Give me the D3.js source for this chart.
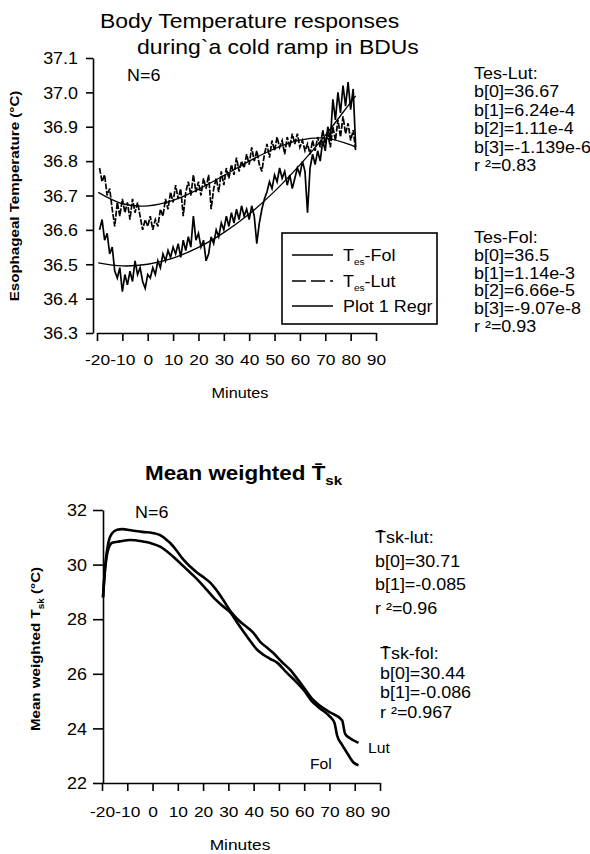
<!DOCTYPE html>
<html><head><meta charset="utf-8">
<script src="https://cdn.jsdelivr.net/npm/d3@7"></script>
<style>
body{margin:0;background:#fff}
svg{display:block}
text{font-family:"Liberation Sans",Arial,Helvetica,sans-serif;fill:#000}
</style>
</head><body>
<svg id="c" width="590" height="854"></svg>
<script>
// ---------- DATA: top chart (esophageal temperature) ----------
const tesMinutes = [-19,-18,-17,-16,-15,-14,-13,-12,-11,-10,-9,-8,-7,-6,-5,-4,-3,-2,-1,0,
  1,2,3,4,5,6,7,8,9,10,11,12,13,14,15,16,17,18,19,20,21,22,23,24,25,26,27,28,29,30,
  31,32,33,34,35,36,37,38,39,40,41,42,43,44,45,46,47,48,49,50,51,52,53,54,55,56,57,58,59,60,
  61,62,63,64,65,66,67,68,69,70,71,72,73,74,75,76,77,78,79,80,81,82];
const tesLut = [36.78,36.74,36.76,36.70,36.72,36.66,36.61,36.68,36.64,36.69,36.65,36.68,36.63,36.69,36.65,36.68,36.64,36.60,36.63,36.61,
  36.64,36.60,36.63,36.61,36.66,36.64,36.69,36.66,36.71,36.68,36.73,36.69,36.72,36.64,36.71,36.74,36.70,36.76,36.71,36.74,
  36.70,36.75,36.72,36.76,36.66,36.72,36.75,36.71,36.77,36.73,36.78,36.75,36.79,36.76,36.81,36.77,36.80,36.78,36.82,36.79,
  36.84,36.80,36.83,36.79,36.77,36.82,36.85,36.81,36.86,36.83,36.87,36.84,36.86,36.82,36.87,36.84,36.88,36.85,36.88,36.84,
  36.86,36.83,36.85,36.82,36.86,36.83,36.87,36.84,36.89,36.85,36.88,36.84,36.90,36.86,36.92,36.87,36.93,36.88,36.91,36.86,
  36.89,36.83];
const tesFol = [36.60,36.63,36.57,36.59,36.53,36.55,36.48,36.46,36.49,36.42,36.47,36.44,36.48,36.45,36.51,36.47,36.49,36.45,36.43,36.47,
  36.46,36.49,36.47,36.51,36.49,36.53,36.51,36.54,36.52,36.55,36.53,36.56,36.52,36.57,36.54,36.58,36.55,36.64,36.57,36.59,
  36.55,36.57,36.51,36.53,36.58,36.56,36.60,36.58,36.62,36.60,36.64,36.61,36.65,36.62,36.66,36.63,36.67,36.64,36.66,36.63,
  36.67,36.64,36.56,36.62,36.66,36.69,36.71,36.74,36.72,36.76,36.74,36.78,36.75,36.77,36.73,36.76,36.72,36.75,36.78,36.76,
  36.80,36.77,36.65,36.78,36.82,36.79,36.83,36.80,36.86,36.83,36.90,36.86,36.98,36.92,37.00,36.94,37.02,36.96,37.03,36.95,
  37.01,36.84];
const regMinutes = [-19.5,-10,0,10,20,30,40,50,60,70,80,82];
const regLut = [36.709,36.676,36.670,36.686,36.718,36.758,36.800,36.836,36.861,36.867,36.847,36.840];
const regFol = [36.504,36.495,36.500,36.518,36.549,36.592,36.646,36.712,36.789,36.875,36.971,36.990];
const tesYTicks = [36.3,36.4,36.5,36.6,36.7,36.8,36.9,37.0,37.1];
const minuteTicks = [-20,-10,0,10,20,30,40,50,60,70,80,90];

// ---------- DATA: bottom chart (mean weighted skin temperature) ----------
const tskLutMin = [-19.6,-18.8,-17.5,-16,-14,-12,-8,-4,0,3,5,7,10,12.3,15,17.8,20,22.9,25,28,31,
  34.8,37.5,40,42.7,45,47.8,51,54.5,57,59.7,63,66,70,75,76.2,78,81.5];
const tskLut = [28.8,29.9,30.8,31.15,31.28,31.3,31.25,31.2,31.16,31.08,30.95,30.79,30.45,30.17,29.92,29.69,29.55,29.33,29.1,28.7,28.27,
  27.9,27.7,27.49,27.16,26.98,26.76,26.45,26.14,25.85,25.52,25.1,24.85,24.6,24.3,23.8,23.65,23.47];
const tskFolMin = [-19.6,-18.8,-17.4,-16,-13,-8.7,-4,-0.8,3.2,5.5,8.3,11,13.8,16.5,19,21.5,24,27.5,31,
  33.6,37.5,41.5,44,46.5,49.4,53,57.3,60,63,66,70,72,73,75,77,79.5,81.5];
const tskFol = [28.8,29.8,30.6,30.8,30.85,30.9,30.85,30.79,30.65,30.5,30.28,30.05,29.8,29.57,29.33,29.07,28.81,28.5,28.22,
  27.86,27.35,26.87,26.69,26.55,26.4,26.05,25.66,25.38,25.0,24.75,24.45,24.2,23.75,23.4,23.1,22.75,22.65];
const tskYTicks = [22,24,26,28,30,32];

const SX = 1.12; // horizontal stretch of the original typeface
const hyphenFmt = d => String(d); // plain hyphen-minus as in the original

const svg = d3.select("#c");

function txt(g, x, y, parts, size, opt = {}) {
  const rot = opt.rotate ? ` rotate(${opt.rotate})` : "";
  const t = g.append("text")
    .attr("transform", `translate(${x},${y})${rot} scale(${SX},1)`)
    .attr("font-size", size)
    .attr("font-weight", opt.bold ? "bold" : "normal")
    .attr("text-anchor", opt.anchor || "start");
  (Array.isArray(parts) ? parts : [parts]).forEach(p => {
    if (typeof p === "string") t.append("tspan").text(p);
    else t.append("tspan").attr("font-size", p.size).attr("dy", p.dy).text(p.t);
  });
  return t;
}

function styleAxis(g) {
  g.select(".domain").attr("stroke", "#000").attr("stroke-width", 1.6);
  g.selectAll(".tick line").attr("stroke", "#000").attr("stroke-width", 1.6);
}

// ================= TOP CHART =================
const x1 = d3.scaleLinear().domain([-20, 90]).range([97, 376]);
const y1 = d3.scaleLinear().domain([36.3, 37.1]).range([333, 58]);

const gTop = svg.append("g");
const gy1 = gTop.append("g").attr("transform", "translate(93,0)")
  .call(d3.axisLeft(y1).tickValues(tesYTicks).tickSize(7).tickSizeOuter(0).tickFormat(d3.format(".1f")));
styleAxis(gy1);
gy1.selectAll(".tick text").attr("x", -15 / SX).attr("dy", "0.36em")
  .attr("transform", `scale(${SX},1)`).attr("font-size", 16);
gy1.attr("font-family", null).attr("font-size", null);

const gx1 = gTop.append("g").attr("transform", "translate(0,333)")
  .call(d3.axisBottom(x1).tickValues(minuteTicks).tickSize(8).tickSizeOuter(0).tickFormat(hyphenFmt));
styleAxis(gx1);
gx1.selectAll(".tick text").attr("y", 32).attr("dy", 0)
  .attr("transform", `scale(${SX},1)`).attr("font-size", 15.5);
gx1.attr("font-family", null).attr("font-size", null);

const lineT = d3.line().x(d => x1(d[0])).y(d => y1(d[1]));
const lineR = d3.line().x(d => x1(d[0])).y(d => y1(d[1])).curve(d3.curveCatmullRom);

gTop.append("path").datum(tesMinutes.map((m, i) => [m, tesLut[i]]))
  .attr("d", lineT).attr("fill", "none").attr("stroke", "#000").attr("stroke-width", 1.7)
  .attr("stroke-dasharray", "6,1.5");
gTop.append("path").datum(tesMinutes.map((m, i) => [m, tesFol[i]]))
  .attr("d", lineT).attr("fill", "none").attr("stroke", "#000").attr("stroke-width", 1.7);
gTop.append("path").datum(regMinutes.map((m, i) => [m, regLut[i]]))
  .attr("d", lineR).attr("fill", "none").attr("stroke", "#000").attr("stroke-width", 1.3);
gTop.append("path").datum(regMinutes.map((m, i) => [m, regFol[i]]))
  .attr("d", lineR).attr("fill", "none").attr("stroke", "#000").attr("stroke-width", 1.3);

// legend
const lg = gTop.append("g");
lg.append("rect").attr("x", 282).attr("y", 233).attr("width", 155).attr("height", 91)
  .attr("fill", "#fff").attr("stroke", "#000").attr("stroke-width", 1.6);
const legendRows = [
  { y: 255, dash: null, parts: ["T", { t: "es", size: 9, dy: 4 }, { t: "-Fol", size: 16, dy: -4 }] },
  { y: 281, dash: "14,5", parts: ["T", { t: "es", size: 9, dy: 4 }, { t: "-Lut", size: 16, dy: -4 }] },
  { y: 306, dash: null, parts: ["Plot 1 Regr"] }
];
legendRows.forEach(r => {
  lg.append("line").attr("x1", 292).attr("x2", 333).attr("y1", r.y).attr("y2", r.y)
    .attr("stroke", "#000").attr("stroke-width", 1.3).attr("stroke-dasharray", r.dash);
  txt(lg, 343, r.y + 6, r.parts, 16);
});

txt(gTop, 100, 28, "Body Temperature responses", 20.5);
txt(gTop, 137, 54, "during`a cold ramp in BDUs", 20.5);
txt(gTop, 127, 81, "N=6", 16);
txt(gTop, 19, 196, "Esophageal Temperature (°C)", 13.5, { bold: true, rotate: -90, anchor: "middle" });
txt(gTop, 240, 398, "Minutes", 14.5, { anchor: "middle" });

const annTop1 = ["Tes-Lut:", "b[0]=36.67", "b[1]=6.24e-4", "b[2]=1.11e-4", "b[3]=-1.139e-6", "r ²=0.83"];
const annTop2 = ["Tes-Fol:", "b[0]=36.5", "b[1]=1.14e-3", "b[2]=6.66e-5", "b[3]=-9.07e-8", "r ²=0.93"];
annTop1.forEach((s, i) => txt(gTop, 474, 79 + i * 18.4, s, 16));
annTop2.forEach((s, i) => txt(gTop, 474, 243 + i * 17.8, s, 16));

// ================= BOTTOM CHART =================
const x2 = d3.scaleLinear().domain([-20, 90]).range([102, 380]);
const y2 = d3.scaleLinear().domain([22, 32]).range([783, 510]);
const gBot = svg.append("g");

const gy2 = gBot.append("g").attr("transform", "translate(103,0)")
  .call(d3.axisLeft(y2).tickValues(tskYTicks).tickSize(10).tickSizeOuter(0));
styleAxis(gy2);
gy2.selectAll(".tick text").attr("x", -16 / SX).attr("dy", "0.36em")
  .attr("transform", `scale(${SX},1)`).attr("font-size", 16);
gy2.attr("font-family", null).attr("font-size", null);

const gx2 = gBot.append("g").attr("transform", "translate(0,783)")
  .call(d3.axisBottom(x2).tickValues(minuteTicks).tickSize(8).tickSizeOuter(0).tickFormat(hyphenFmt));
styleAxis(gx2);
gx2.selectAll(".tick text").attr("y", 34).attr("dy", 0)
  .attr("transform", `scale(${SX},1)`).attr("font-size", 15.5);
gx2.attr("font-family", null).attr("font-size", null);

const lineS = d3.line().x(d => x2(d[0])).y(d => y2(d[1])).curve(d3.curveMonotoneX);
gBot.append("path").datum(tskLutMin.map((m, i) => [m, tskLut[i]]))
  .attr("d", lineS).attr("fill", "none").attr("stroke", "#000").attr("stroke-width", 2.6);
gBot.append("path").datum(tskFolMin.map((m, i) => [m, tskFol[i]]))
  .attr("d", lineS).attr("fill", "none").attr("stroke", "#000").attr("stroke-width", 2.6);

txt(gBot, 145, 480, ["Mean weighted T\u0304", { t: "sk", size: 13.5, dy: 5 }], 20, { bold: true });
txt(gBot, 135, 518, "N=6", 16);
txt(gBot, 40, 649, ["Mean weighted T", { t: "sk", size: 9, dy: 4 }, { t: " (°C)", size: 13.5, dy: -4 }], 13.5,
  { bold: true, rotate: -90, anchor: "middle" });
txt(gBot, 240, 850, "Minutes", 15.5, { anchor: "middle" });
txt(gBot, 368, 753, "Lut", 14);
txt(gBot, 310, 769, "Fol", 14);

const annBot1 = ["T\u0304sk-lut:", "b[0]=30.71", "b[1]=-0.085", "r ²=0.96"];
const annBot2 = ["T\u0304sk-fol:", "b[0]=30.44", "b[1]=-0.086", "r ²=0.967"];
annBot1.forEach((s, i) => txt(gBot, 375, 543 + i * 23.7, s, 16));
annBot2.forEach((s, i) => txt(gBot, 380, 659 + i * 19.7, s, 16));
</script>
</body></html>
